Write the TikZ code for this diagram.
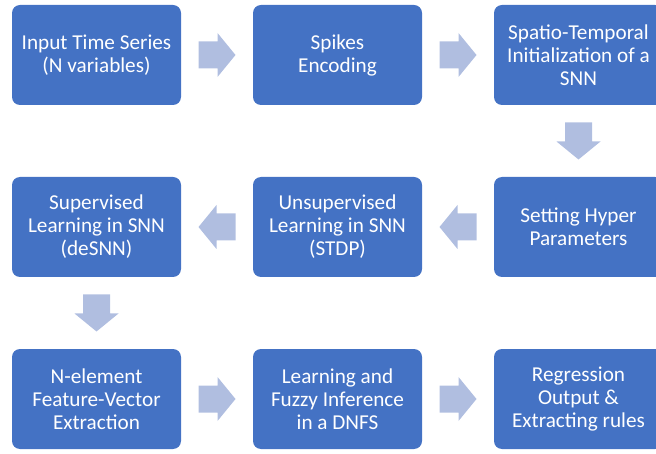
\documentclass[tikz,border=0pt]{standalone}
\usepackage{fontspec}
\setmainfont{Carlito}
\usetikzlibrary{calc}
\definecolor{boxblue}{HTML}{4472C4}
\definecolor{arrowfill}{HTML}{B0BEE0}
\tikzset{
  stepbox/.style={fill=boxblue, rounded corners=8pt, minimum width=169pt,
    minimum height=100pt, text=white, align=center, inner sep=0pt,
    font=\fontsize{21.2}{23}\selectfont},
  flowarrow/.style={fill=arrowfill}
}
% block arrow centred between two nodes; #3 is the rotation of the tip
\newcommand\blockarrow[3]{%
  \fill[flowarrow, shift={($(#1)!0.5!(#2)$)}, rotate=#3]
    (-18.5,-13.5) -- (0.5,-13.5) -- (0.5,-22) -- (18.5,0) --
    (0.5,22) -- (0.5,13.5) -- (-18.5,13.5) -- cycle;}
\begin{document}
\begin{tikzpicture}[x=1pt,y=-1pt]
\useasboundingbox (0,0) rectangle (656,454);
\clip (0,0) rectangle (656,454);
% row 1
\node[stepbox] (input)  at (96.5,55)  {Input Time Series\\(N variables)};
\node[stepbox] (encode) at (337.5,55) {Spikes\\Encoding};
\node[stepbox] (init)   at (578.5,55) {Spatio-Temporal\\Initialization of a\\SNN};
% row 2
\node[stepbox] (sup)    at (96.5,227)  {Supervised\\Learning in SNN\\(deSNN)};
\node[stepbox] (unsup)  at (337.5,227) {Unsupervised\\Learning in SNN\\(STDP)};
\node[stepbox] (hyper)  at (578.5,227) {Setting Hyper\\Parameters};
% row 3
\node[stepbox] (feat)   at (96.5,399)  {N-element\\Feature-Vector\\Extraction};
\node[stepbox] (dnfs)   at (337.5,399) {Learning and\\Fuzzy Inference\\in a DNFS};
\node[stepbox] (out)    at (578.5,399) {Regression\\Output \&\\Extracting rules};
% connectors
\blockarrow{input.east}{encode.west}{0}
\blockarrow{encode.east}{init.west}{0}
\blockarrow{init.south}{hyper.north}{-90}
\blockarrow{hyper.west}{unsup.east}{180}
\blockarrow{unsup.west}{sup.east}{180}
\blockarrow{sup.south}{feat.north}{-90}
\blockarrow{feat.east}{dnfs.west}{0}
\blockarrow{dnfs.east}{out.west}{0}
\end{tikzpicture}
\end{document}
